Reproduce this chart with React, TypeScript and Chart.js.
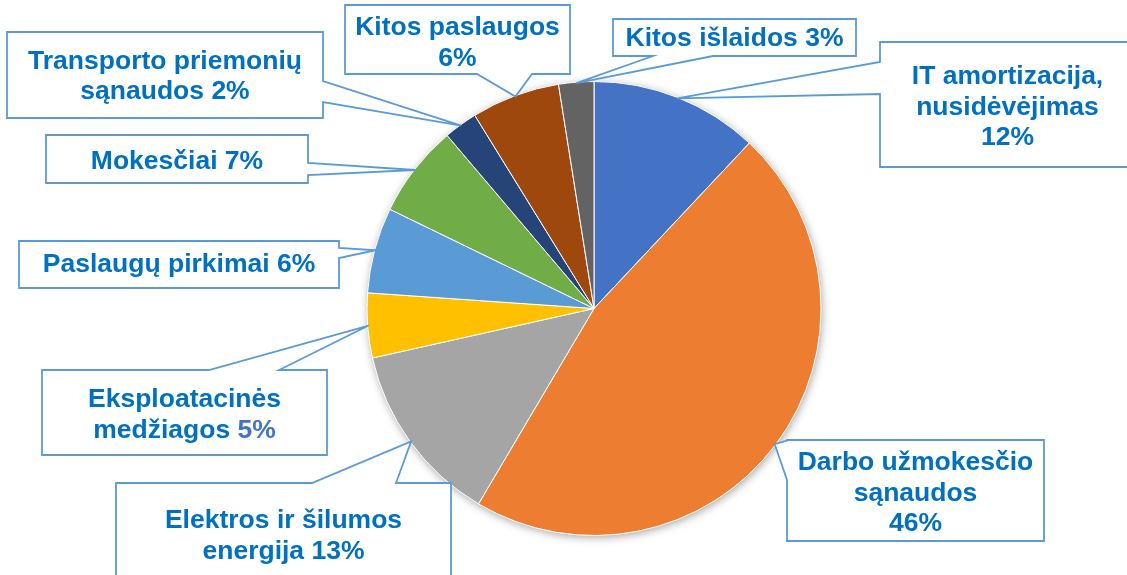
import React, { useEffect, useRef } from "react";
import { Chart, registerables } from "chart.js";

Chart.register(...registerables);

// ---- Data ----
const categories = [
  "IT amortizacija, nusidėvėjimas",
  "Darbo užmokesčio sąnaudos",
  "Elektros ir šilumos energija",
  "Eksploatacinės medžiagos",
  "Paslaugų pirkimai",
  "Mokesčiai",
  "Transporto priemonių sąnaudos",
  "Kitos paslaugos",
  "Kitos išlaidos",
];
const shares = [12.0, 46.5, 13.0, 4.6, 6.1, 6.6, 2.4, 6.3, 2.5];
const percentLabels = ["12%", "46%", "13%", "5%", "6%", "7%", "2%", "6%", "3%"];
const labelLines = [
  ["IT amortizacija,", "nusidėvėjimas", "12%"],
  ["Darbo užmokesčio", "sąnaudos", "46%"],
  ["Elektros ir šilumos", "energija 13%"],
  ["Eksploatacinės", "medžiagos 5%"],
  ["Paslaugų pirkimai 6%"],
  ["Mokesčiai 7%"],
  ["Transporto priemonių", "sąnaudos 2%"],
  ["Kitos paslaugos", "6%"],
  ["Kitos išlaidos 3%"],
];
const sliceColors = [
  "#4472C4",
  "#ED7D31",
  "#A5A5A5",
  "#FFC000",
  "#5B9BD5",
  "#70AD47",
  "#264478",
  "#9E480E",
  "#636363",
];

// ---- Callout layout (box: left, top, right, bottom; tail base on an edge) ----
type Callout = {
  box: [number, number, number, number];
  edge: "left" | "right" | "top" | "bottom";
  a: number;
  b: number;
  baselines: number[];
  pctColor?: string;
};
const callouts: Callout[] = [
  { box: [880, 42, 1135, 167], edge: "left", a: 62, b: 94, baselines: [84, 115, 145] },
  { box: [787, 440, 1044, 541], edge: "left", a: 440.5, b: 480, baselines: [470, 501, 531] },
  { box: [116, 483, 451, 600], edge: "top", a: 312, b: 396, baselines: [528, 559] },
  { box: [42, 370, 327, 455], edge: "top", a: 209, b: 279, baselines: [407, 438], pctColor: "#4472C4" },
  { box: [19, 241, 339, 288], edge: "right", a: 248, b: 258, baselines: [272] },
  { box: [46, 135, 308, 183], edge: "right", a: 163, b: 175, baselines: [169] },
  { box: [7, 32, 323, 118], edge: "right", a: 81, b: 102, baselines: [69, 99] },
  { box: [345, 5, 570, 74], edge: "bottom", a: 477, b: 532, baselines: [35, 66] },
  { box: [613, 19, 856, 56], edge: "bottom", a: 653, b: 713, baselines: [46] },
];

const FONT = "bold 26.5px 'Liberation Sans', Arial, sans-serif";
const TEXT_COLOR = "#0070C0";
const BORDER_COLOR = "#5B9BD5";

const shadowPlugin = {
  id: "pieShadow",
  beforeDatasetsDraw(chart: any) {
    const meta = chart.getDatasetMeta(0);
    const arc = meta.data[0];
    if (!arc) return;
    const { x, y, outerRadius } = arc.getProps(["x", "y", "outerRadius"], true);
    const ctx = chart.ctx;
    ctx.save();
    ctx.shadowColor = "rgba(0,0,0,0.35)";
    ctx.shadowBlur = 8;
    ctx.shadowOffsetX = 1;
    ctx.shadowOffsetY = 2;
    ctx.fillStyle = "#ffffff";
    ctx.beginPath();
    ctx.arc(x, y, outerRadius, 0, Math.PI * 2);
    ctx.fill();
    ctx.restore();
  },
};

const calloutPlugin = {
  id: "callouts",
  afterDatasetsDraw(chart: any) {
    const ctx = chart.ctx;
    const meta = chart.getDatasetMeta(0);
    meta.data.forEach((arc: any, i: number) => {
      const c = callouts[i];
      if (!c) return;
      const p = arc.getProps(["x", "y", "startAngle", "endAngle", "outerRadius"], true);
      const mid = (p.startAngle + p.endAngle) / 2;
      const tx = p.x + Math.cos(mid) * (p.outerRadius - 1);
      const ty = p.y + Math.sin(mid) * (p.outerRadius - 1);
      const [l, t, r, b] = c.box;
      ctx.save();
      ctx.beginPath();
      ctx.moveTo(l, t);
      if (c.edge === "top") {
        ctx.lineTo(c.a, t);
        ctx.lineTo(tx, ty);
        ctx.lineTo(c.b, t);
      }
      ctx.lineTo(r, t);
      if (c.edge === "right") {
        ctx.lineTo(r, c.a);
        ctx.lineTo(tx, ty);
        ctx.lineTo(r, c.b);
      }
      ctx.lineTo(r, b);
      if (c.edge === "bottom") {
        ctx.lineTo(c.b, b);
        ctx.lineTo(tx, ty);
        ctx.lineTo(c.a, b);
      }
      ctx.lineTo(l, b);
      if (c.edge === "left") {
        ctx.lineTo(l, c.b);
        ctx.lineTo(tx, ty);
        ctx.lineTo(l, c.a);
      }
      ctx.closePath();
      ctx.fillStyle = "#ffffff";
      ctx.fill();
      ctx.lineWidth = 1.8;
      ctx.strokeStyle = BORDER_COLOR;
      ctx.lineJoin = "miter";
      ctx.stroke();

      ctx.font = FONT;
      ctx.textBaseline = "alphabetic";
      ctx.textAlign = "left";
      const cx = (l + r) / 2;
      const lines = labelLines[i];
      const pct = percentLabels[i];
      lines.forEach((line, k) => {
        const y = c.baselines[k];
        const w = ctx.measureText(line).width;
        const x0 = cx - w / 2;
        if (c.pctColor && line.endsWith(pct)) {
          const head = line.slice(0, line.length - pct.length);
          ctx.fillStyle = TEXT_COLOR;
          ctx.fillText(head, x0, y);
          ctx.fillStyle = c.pctColor;
          ctx.fillText(pct, x0 + ctx.measureText(head).width, y);
        } else {
          ctx.fillStyle = TEXT_COLOR;
          ctx.fillText(line, x0, y);
        }
      });
      ctx.restore();
    });
  },
};

export default function App() {
  const ref = useRef<HTMLCanvasElement | null>(null);
  useEffect(() => {
    if (!ref.current) return;
    const chart = new Chart(ref.current, {
      type: "pie",
      data: {
        labels: categories,
        datasets: [
          {
            data: shares,
            backgroundColor: sliceColors,
            borderColor: "#ffffff",
            borderWidth: 1,
            hoverOffset: 0,
          },
        ],
      },
      options: {
        responsive: false,
        animation: false,
        devicePixelRatio: 1,
        layout: { padding: { left: 61, right: 0, top: 81, bottom: 39 } },
        plugins: {
          legend: { display: false },
          tooltip: { enabled: false },
          title: { display: false },
        },
        events: [],
      },
      plugins: [shadowPlugin, calloutPlugin],
    });
    return () => chart.destroy();
  }, []);
  return (
    <div
      style={{
        position: "fixed",
        left: 0,
        top: 0,
        width: 1127,
        height: 575,
        background: "#ffffff",
        overflow: "hidden",
      }}
    >
      <canvas ref={ref} width={1127} height={575} style={{ display: "block", width: 1127, height: 575 }} />
    </div>
  );
}
